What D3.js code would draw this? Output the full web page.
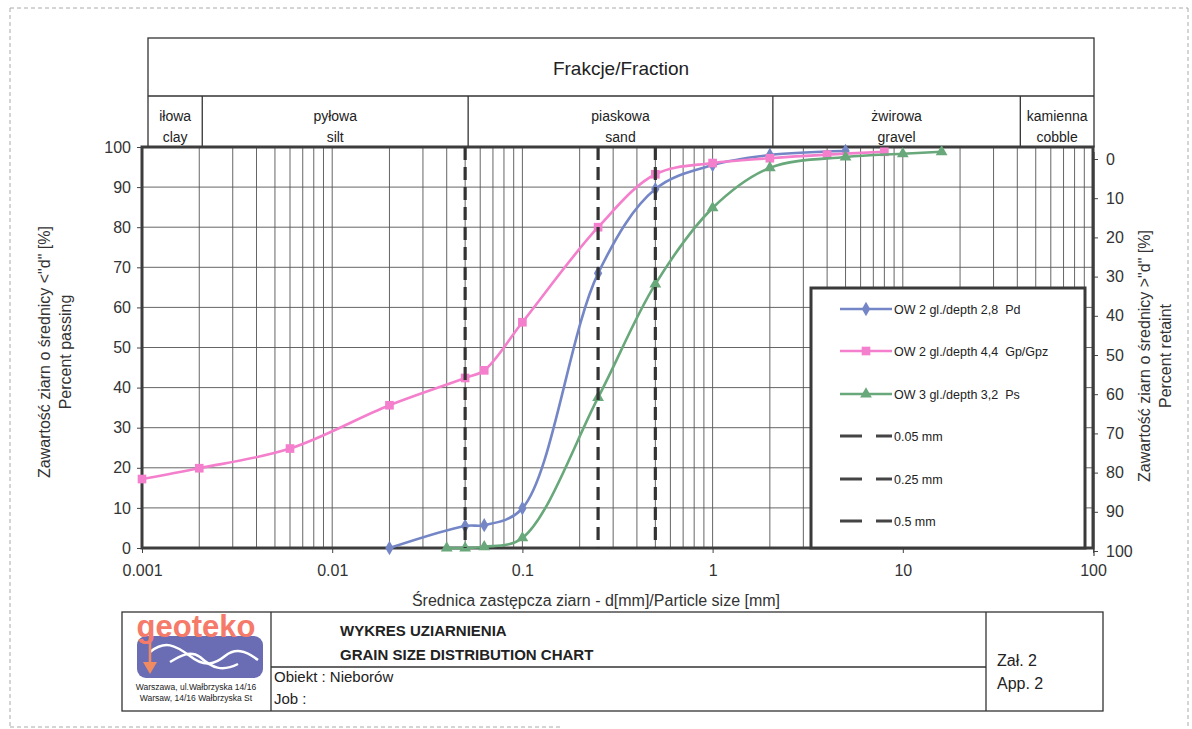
<!DOCTYPE html>
<html>
<head>
<meta charset="utf-8">
<script src="https://cdn.jsdelivr.net/npm/d3@7"></script>
<style>
  body { margin: 0; background: #fff; }
  svg { display: block; font-family: Arial, "Liberation Sans", sans-serif; }
  .pre { white-space: pre; }
</style>
</head>
<body>
<svg id="chart" width="1192" height="729"></svg>
<script>
// sample curves: particle size [mm] and percent passing
const sizesPd = [0.02, 0.05, 0.063, 0.1, 0.25, 0.5, 1, 2, 5];
const passPd = [0, 5.5, 5.7, 9.9, 68.5, 89.5, 95.5, 98, 99];

const sizesGp = [0.001, 0.002, 0.006, 0.02, 0.05, 0.063, 0.1, 0.25, 0.5, 1, 2, 4, 8];
const passGp = [17.2, 19.9, 24.8, 35.6, 42.4, 44.3, 56.3, 80, 93.2, 96, 97.2, 98.1, 98.8];

const sizesPs = [0.04, 0.05, 0.063, 0.1, 0.25, 0.5, 1, 2, 5, 10, 16];
const passPs = [0, 0, 0.3, 2.5, 37.5, 65.8, 84.8, 94.8, 97.5, 98.3, 98.8];

const seriesNames = ["OW 2 gl./depth 2,8  Pd", "OW 2 gl./depth 4,4  Gp/Gpz", "OW 3 gl./depth 3,2  Ps"];
const limitSizes = [0.05, 0.25, 0.5];
const limitNames = ["0.05 mm", "0.25 mm", "0.5 mm"];

const xTicks = [0.001, 0.01, 0.1, 1, 10, 100];
const xTickLabels = ["0.001", "0.01", "0.1", "1", "10", "100"];
const yTicks = [0, 10, 20, 30, 40, 50, 60, 70, 80, 90, 100];

const fractionBounds = [0.001, 0.002, 0.05, 2, 40, 100];
const fractionPl = ["iłowa", "pyłowa", "piaskowa", "żwirowa", "kamienna"];
const fractionEn = ["clay", "silt", "sand", "gravel", "cobble"];

const svg = d3.select("#chart");

// page frame (dashed, like the scan)
const frame = svg.append("g").attr("stroke", "#aaa").attr("stroke-dasharray", "4,3").attr("fill", "none");
frame.append("line").attr("x1", 10).attr("x2", 1188).attr("y1", 8).attr("y2", 8);
frame.append("line").attr("x1", 10).attr("x2", 10).attr("y1", 8).attr("y2", 728);
frame.append("line").attr("x1", 1188).attr("x2", 1188).attr("y1", 8).attr("y2", 728);
frame.append("line").attr("x1", 10).attr("x2", 560).attr("y1", 727).attr("y2", 727);

// scales
const x = d3.scaleLog().domain([0.001, 100]).range([142, 1093]);
const y = d3.scaleLinear().domain([0, 100]).range([548, 147]);
const yRight = d3.scaleLinear().domain([0, 100]).range([159, 551]);

// grid
const grid = svg.append("g").attr("stroke", "#555").attr("stroke-width", 0.9);
let gridSizes = [];
for (let e = -3; e < 2; e++) {
  for (let k = 1; k < 10; k++) gridSizes.push(k * Math.pow(10, e));
}
grid.selectAll("line.v")
  .data(gridSizes.slice(1))
  .join("line")
  .attr("class", "v")
  .attr("x1", d => x(d)).attr("x2", d => x(d))
  .attr("y1", y(100)).attr("y2", y(0));
grid.selectAll("line.h")
  .data(yTicks.slice(1, -1))
  .join("line")
  .attr("class", "h")
  .attr("x1", x(0.001)).attr("x2", x(100))
  .attr("y1", d => y(d)).attr("y2", d => y(d));

// fraction header
const head = svg.append("g").attr("fill", "none").attr("stroke", "#333").attr("stroke-width", 1.3);
const hx0 = x(0.001) + 6, hx1 = x(100) + 1;
head.append("rect").attr("x", hx0).attr("y", 38).attr("width", hx1 - hx0).attr("height", 109);
head.append("line").attr("x1", hx0).attr("x2", hx1).attr("y1", 96).attr("y2", 96);
head.selectAll("line.div")
  .data(fractionBounds.slice(1, -1))
  .join("line")
  .attr("class", "div")
  .attr("x1", d => x(d) + 3).attr("x2", d => x(d) + 3)
  .attr("y1", 96).attr("y2", 147);

svg.append("text")
  .attr("x", (hx0 + hx1) / 2).attr("y", 75)
  .attr("text-anchor", "middle").attr("font-size", 19).attr("fill", "#222")
  .text("Frakcje/Fraction");

const fracText = svg.append("g").attr("text-anchor", "middle").attr("font-size", 14).attr("fill", "#222");
fractionPl.forEach((name, i) => {
  let a = i === 0 ? hx0 : x(fractionBounds[i]) + 3;
  let b = i === fractionPl.length - 1 ? hx1 : x(fractionBounds[i + 1]) + 3;
  let cx = (a + b) / 2;
  fracText.append("text").attr("x", cx).attr("y", 121).text(name);
  fracText.append("text").attr("x", cx).attr("y", 142).text(fractionEn[i]);
});

// axes
const axisStyle = g => {
  g.selectAll("path").remove();
  g.selectAll("line").attr("stroke", "#444");
  g.selectAll("text").attr("font-size", 16).attr("fill", "#333").attr("font-family", "Arial, 'Liberation Sans', sans-serif");
};

svg.append("g")
  .attr("transform", `translate(${x(0.001)},0)`)
  .call(d3.axisLeft(y).tickValues(yTicks).tickSize(5).tickPadding(6))
  .call(axisStyle);

svg.append("g")
  .attr("transform", `translate(${x(100)},0)`)
  .call(d3.axisRight(yRight).tickValues(yTicks).tickSize(5).tickPadding(8))
  .call(axisStyle);
svg.append("line")
  .attr("x1", x(100) + 1).attr("x2", x(100) + 1)
  .attr("y1", 152).attr("y2", 556)
  .attr("stroke", "#444").attr("stroke-width", 1.2);

svg.append("g")
  .attr("transform", `translate(0,${y(0)})`)
  .call(d3.axisBottom(x).tickValues(xTicks).tickFormat((d, i) => xTickLabels[i]).tickSize(5).tickPadding(12))
  .call(axisStyle);

// axis titles
const titles = svg.append("g").attr("font-size", 16).attr("fill", "#333").attr("text-anchor", "middle");
titles.append("text")
  .attr("transform", "translate(50,352) rotate(-90)")
  .text("Zawartość ziarn o średnicy <\"d\" [%]");
titles.append("text")
  .attr("transform", "translate(71,352) rotate(-90)")
  .text("Percent passing");
titles.append("text")
  .attr("transform", "translate(1150,356) rotate(-90)")
  .text("Zawartość ziarn o średnicy >\"d\" [%]");
titles.append("text")
  .attr("transform", "translate(1171,356) rotate(-90)")
  .text("Percent retaint");
titles.append("text")
  .attr("x", 596).attr("y", 606)
  .text("Średnica zastępcza ziarn - d[mm]/Particle size [mm]");

// plot border
svg.append("rect")
  .attr("x", x(0.001)).attr("y", y(100))
  .attr("width", x(100) - x(0.001)).attr("height", y(0) - y(100))
  .attr("fill", "none").attr("stroke", "#3d3d3d").attr("stroke-width", 3);

// curves
const series = [
  { name: seriesNames[0], sizes: sizesPd, pass: passPd, color: "#7486c6", marker: d3.symbolDiamond, msize: 60 },
  { name: seriesNames[1], sizes: sizesGp, pass: passGp, color: "#f47fcc", marker: d3.symbolSquare, msize: 75 },
  { name: seriesNames[2], sizes: sizesPs, pass: passPs, color: "#68a87a", marker: d3.symbolTriangle, msize: 60 }
];

const line = d3.line()
  .x(d => x(d[0]))
  .y(d => y(d[1]))
  .curve(d3.curveCatmullRom.alpha(0.5));

const plot = svg.append("g");
series.forEach(s => {
  let pts = d3.zip(s.sizes, s.pass);
  plot.append("path")
    .datum(pts)
    .attr("d", line)
    .attr("fill", "none")
    .attr("stroke", s.color)
    .attr("stroke-width", 2.6);
  plot.selectAll(null)
    .data(pts)
    .join("path")
    .attr("transform", d => `translate(${x(d[0])},${y(d[1])})`)
    .attr("d", d3.symbol(s.marker, s.msize))
    .attr("fill", s.color);
});

// limit lines 0.05 / 0.25 / 0.5 mm
plot.selectAll("line.limit")
  .data(limitSizes)
  .join("line")
  .attr("class", "limit")
  .attr("x1", d => x(d)).attr("x2", d => x(d))
  .attr("y1", y(100)).attr("y2", y(0))
  .attr("stroke", "#333")
  .attr("stroke-width", 3.2)
  .attr("stroke-dasharray", "13,7");

// legend
const leg = svg.append("g");
leg.append("rect")
  .attr("x", 811).attr("y", 288).attr("width", 274).attr("height", 260)
  .attr("fill", "#fff").attr("stroke", "#3a3a3a").attr("stroke-width", 3);
const rowY = [309, 351, 394, 436, 479, 521];
series.forEach((s, i) => {
  leg.append("line")
    .attr("x1", 840).attr("x2", 892).attr("y1", rowY[i]).attr("y2", rowY[i])
    .attr("stroke", s.color).attr("stroke-width", 2.6);
  leg.append("path")
    .attr("transform", `translate(866,${rowY[i]})`)
    .attr("d", d3.symbol(s.marker, s.msize))
    .attr("fill", s.color);
  leg.append("text")
    .attr("class", "pre")
    .attr("x", 894).attr("y", rowY[i] + 5)
    .attr("font-size", 12.5).attr("fill", "#222")
    .text(s.name);
});
limitNames.forEach((n, i) => {
  let ly = rowY[i + 3];
  leg.append("line")
    .attr("x1", 840).attr("x2", 892).attr("y1", ly).attr("y2", ly)
    .attr("stroke", "#444").attr("stroke-width", 3.2)
    .attr("stroke-dasharray", "22,14");
  leg.append("text")
    .attr("x", 894).attr("y", ly + 5)
    .attr("font-size", 12.5).attr("fill", "#222")
    .text(n);
});

// title block
const tb = svg.append("g").attr("fill", "none").attr("stroke", "#333").attr("stroke-width", 1.3);
tb.append("rect").attr("x", 122).attr("y", 612).attr("width", 981).attr("height", 99);
tb.append("line").attr("x1", 271).attr("x2", 271).attr("y1", 612).attr("y2", 711);
tb.append("line").attr("x1", 986).attr("x2", 986).attr("y1", 612).attr("y2", 711);
tb.append("line").attr("x1", 271).attr("x2", 986).attr("y1", 667).attr("y2", 667);

const tbt = svg.append("g").attr("fill", "#222");
tbt.append("text").attr("x", 340).attr("y", 636).attr("font-size", 15).attr("font-weight", "bold").text("WYKRES UZIARNIENIA");
tbt.append("text").attr("x", 340).attr("y", 660).attr("font-size", 15).attr("font-weight", "bold").text("GRAIN SIZE DISTRIBUTION CHART");
tbt.append("text").attr("x", 274).attr("y", 682).attr("font-size", 15).text("Obiekt : Nieborów");
tbt.append("text").attr("x", 274).attr("y", 704).attr("font-size", 15).text("Job :");
tbt.append("text").attr("x", 997).attr("y", 666).attr("font-size", 16).text("Zał. 2");
tbt.append("text").attr("x", 997).attr("y", 689).attr("font-size", 16).text("App. 2");

// logo
const logo = svg.append("g");
logo.append("rect").attr("x", 137).attr("y", 636).attr("width", 126).attr("height", 42).attr("rx", 9)
  .attr("fill", "#6a6db4");
logo.append("path")
  .attr("d", "M150,652 C165,640 175,645 190,656 C205,668 215,664 225,656 C235,648 245,650 258,660")
  .attr("fill", "none").attr("stroke", "#fff").attr("stroke-width", 2.5);
logo.append("path")
  .attr("d", "M170,662 C180,656 190,650 200,657 C212,668 222,672 238,664")
  .attr("fill", "none").attr("stroke", "#fff").attr("stroke-width", 2.5);
logo.append("line").attr("x1", 150).attr("x2", 150).attr("y1", 632).attr("y2", 664)
  .attr("stroke", "#f08a60").attr("stroke-width", 2.5);
logo.append("path").attr("d", "M143,662 L157,662 L150,674 Z").attr("fill", "#f08a60");
logo.append("text").attr("x", 196).attr("y", 637).attr("text-anchor", "middle")
  .attr("font-size", 31).attr("font-weight", "bold").attr("fill", "#f57a6a").text("geoteko");
logo.append("text").attr("x", 196).attr("y", 690).attr("text-anchor", "middle")
  .attr("font-size", 8.5).attr("fill", "#222").text("Warszawa, ul.Wałbrzyska 14/16");
logo.append("text").attr("x", 196).attr("y", 701).attr("text-anchor", "middle")
  .attr("font-size", 8.5).attr("fill", "#222").text("Warsaw, 14/16 Wałbrzyska St");
</script>
</body>
</html>
